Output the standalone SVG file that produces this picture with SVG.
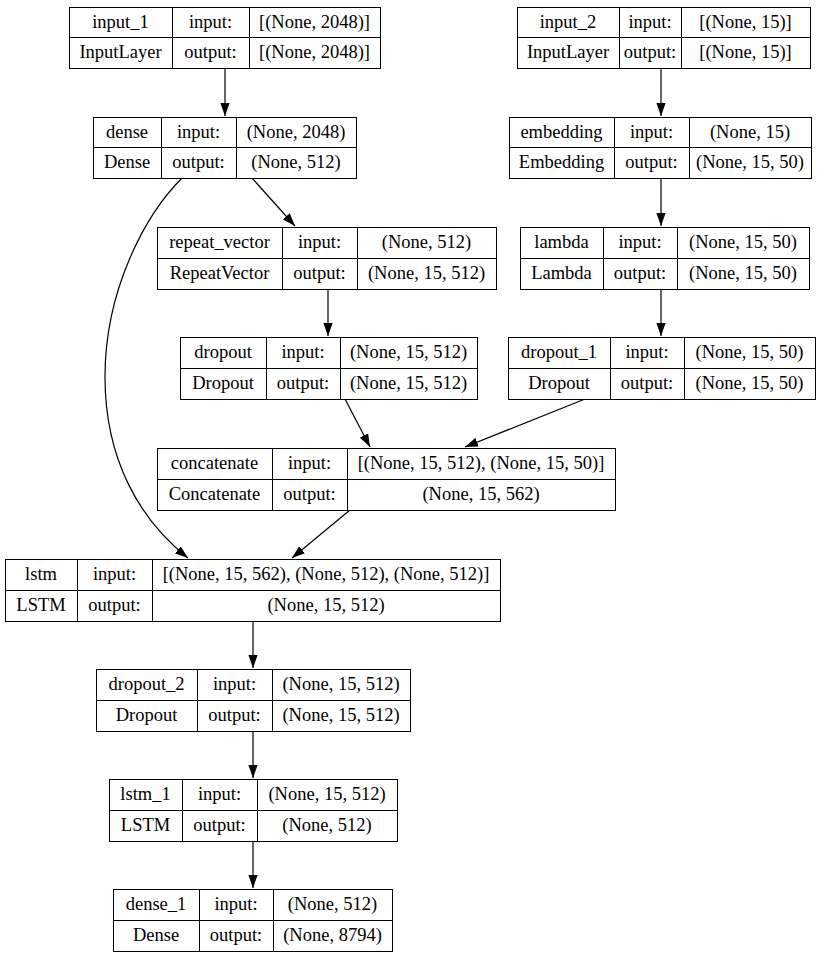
<svg xmlns="http://www.w3.org/2000/svg" width="825" height="959" viewBox="0 0 825 959">
<style>
.b{fill:#fff;stroke:#000;stroke-width:1}
.d{stroke:#000;stroke-width:1}
text{font-family:"Liberation Serif","Times New Roman",serif;font-size:18.5px;text-anchor:middle;fill:#000}
.c{fill:none;stroke:#000;stroke-width:1.2}
</style>
<defs>
<marker id="ah" markerUnits="userSpaceOnUse" markerWidth="14" markerHeight="10" refX="13" refY="5" orient="auto">
<path d="M0,0.4 L13,5 L0,9.6 Z" fill="#000"/>
</marker>
</defs>
<rect width="825" height="959" fill="#fff"/>
<g id="connectors">
<path class="c" d="M225,68 V116" marker-end="url(#ah)"/>
<path class="c" d="M661,68 V116" marker-end="url(#ah)"/>
<path class="c" d="M252,178 L295,226" marker-end="url(#ah)"/>
<path class="c" d="M182,178 C145,215 105,290 105,377 C105,460 140,520 188,558" marker-end="url(#ah)"/>
<path class="c" d="M661,178 V226" marker-end="url(#ah)"/>
<path class="c" d="M328,289 V336" marker-end="url(#ah)"/>
<path class="c" d="M661,289 V336" marker-end="url(#ah)"/>
<path class="c" d="M345,399 L370,447" marker-end="url(#ah)"/>
<path class="c" d="M585,399 L465,447" marker-end="url(#ah)"/>
<path class="c" d="M350,510 L292,558" marker-end="url(#ah)"/>
<path class="c" d="M253,621 V668" marker-end="url(#ah)"/>
<path class="c" d="M253,731 V778" marker-end="url(#ah)"/>
<path class="c" d="M253,841 V888" marker-end="url(#ah)"/>
</g>
<g id="input_1">
<rect class="b" x="69.5" y="7.5" width="311" height="61"/>
<path class="d" d="M69.5,37.5 H380.5 M172.5,7.5 V68.5 M249.5,7.5 V68.5"/>
<text x="120.5" y="28">input_1</text><text x="210.5" y="28">input:</text><text x="314.5" y="28">[(None, 2048)]</text>
<text x="120.5" y="58">InputLayer</text><text x="210.5" y="58">output:</text><text x="314.5" y="58">[(None, 2048)]</text>
</g>
<g id="input_2">
<rect class="b" x="517.5" y="7.5" width="293" height="61"/>
<path class="d" d="M517.5,37.5 H810.5 M619.5,7.5 V68.5 M681.5,7.5 V68.5"/>
<text x="568" y="28">input_2</text><text x="650" y="28">input:</text><text x="745.5" y="28">[(None, 15)]</text>
<text x="568" y="58">InputLayer</text><text x="650" y="58">output:</text><text x="745.5" y="58">[(None, 15)]</text>
</g>
<g id="dense">
<rect class="b" x="93.5" y="117.5" width="263" height="61"/>
<path class="d" d="M93.5,147.5 H356.5 M161.5,117.5 V178.5 M236.5,117.5 V178.5"/>
<text x="127" y="138">dense</text><text x="198.5" y="138">input:</text><text x="296" y="138">(None, 2048)</text>
<text x="127" y="168">Dense</text><text x="198.5" y="168">output:</text><text x="296" y="168">(None, 512)</text>
</g>
<g id="embedding">
<rect class="b" x="509.5" y="117.5" width="302" height="61"/>
<path class="d" d="M509.5,147.5 H811.5 M614.5,117.5 V178.5 M689.5,117.5 V178.5"/>
<text x="561.5" y="138">embedding</text><text x="651.5" y="138">input:</text><text x="750" y="138">(None, 15)</text>
<text x="561.5" y="168">Embedding</text><text x="651.5" y="168">output:</text><text x="750" y="168">(None, 15, 50)</text>
</g>
<g id="repeat_vector">
<rect class="b" x="157.5" y="227.5" width="339" height="62"/>
<path class="d" d="M157.5,258.5 H496.5 M282.5,227.5 V289.5 M357.5,227.5 V289.5"/>
<text x="219.5" y="248">repeat_vector</text><text x="319.5" y="248">input:</text><text x="426.5" y="248">(None, 512)</text>
<text x="219.5" y="279">RepeatVector</text><text x="319.5" y="279">output:</text><text x="426.5" y="279">(None, 15, 512)</text>
</g>
<g id="lambda">
<rect class="b" x="520.5" y="227.5" width="289" height="62"/>
<path class="d" d="M520.5,258.5 H809.5 M603.5,227.5 V289.5 M677.5,227.5 V289.5"/>
<text x="561.5" y="248">lambda</text><text x="640" y="248">input:</text><text x="743" y="248">(None, 15, 50)</text>
<text x="561.5" y="279">Lambda</text><text x="640" y="279">output:</text><text x="743" y="279">(None, 15, 50)</text>
</g>
<g id="dropout">
<rect class="b" x="180.5" y="337.5" width="297" height="62"/>
<path class="d" d="M180.5,368.5 H477.5 M266.5,337.5 V399.5 M340.5,337.5 V399.5"/>
<text x="223" y="358">dropout</text><text x="303" y="358">input:</text><text x="408.5" y="358">(None, 15, 512)</text>
<text x="223" y="389">Dropout</text><text x="303" y="389">output:</text><text x="408.5" y="389">(None, 15, 512)</text>
</g>
<g id="dropout_1">
<rect class="b" x="508.5" y="337.5" width="307" height="62"/>
<path class="d" d="M508.5,368.5 H815.5 M610.5,337.5 V399.5 M684.5,337.5 V399.5"/>
<text x="559" y="358">dropout_1</text><text x="647" y="358">input:</text><text x="749.5" y="358">(None, 15, 50)</text>
<text x="559" y="389">Dropout</text><text x="647" y="389">output:</text><text x="749.5" y="389">(None, 15, 50)</text>
</g>
<g id="concatenate">
<rect class="b" x="157.5" y="448.5" width="458" height="62"/>
<path class="d" d="M157.5,479.5 H615.5 M272.5,448.5 V510.5 M347.5,448.5 V510.5"/>
<text x="214.5" y="469">concatenate</text><text x="309.5" y="469">input:</text><text x="481" y="469">[(None, 15, 512), (None, 15, 50)]</text>
<text x="214.5" y="500">Concatenate</text><text x="309.5" y="500">output:</text><text x="481" y="500">(None, 15, 562)</text>
</g>
<g id="lstm">
<rect class="b" x="5.5" y="559.5" width="495" height="62"/>
<path class="d" d="M5.5,590.5 H500.5 M77.5,559.5 V621.5 M152.5,559.5 V621.5"/>
<text x="41" y="580">lstm</text><text x="114.5" y="580">input:</text><text x="326" y="580">[(None, 15, 562), (None, 512), (None, 512)]</text>
<text x="41" y="611">LSTM</text><text x="114.5" y="611">output:</text><text x="326" y="611">(None, 15, 512)</text>
</g>
<g id="dropout_2">
<rect class="b" x="96.5" y="669.5" width="314" height="62"/>
<path class="d" d="M96.5,700.5 H410.5 M197.5,669.5 V731.5 M272.5,669.5 V731.5"/>
<text x="146.5" y="690">dropout_2</text><text x="234.5" y="690">input:</text><text x="341" y="690">(None, 15, 512)</text>
<text x="146.5" y="721">Dropout</text><text x="234.5" y="721">output:</text><text x="341" y="721">(None, 15, 512)</text>
</g>
<g id="lstm_1">
<rect class="b" x="109.5" y="779.5" width="288" height="62"/>
<path class="d" d="M109.5,810.5 H397.5 M182.5,779.5 V841.5 M257.5,779.5 V841.5"/>
<text x="145.5" y="800">lstm_1</text><text x="219.5" y="800">input:</text><text x="327" y="800">(None, 15, 512)</text>
<text x="145.5" y="831">LSTM</text><text x="219.5" y="831">output:</text><text x="327" y="831">(None, 512)</text>
</g>
<g id="dense_1">
<rect class="b" x="113.5" y="889.5" width="279" height="62"/>
<path class="d" d="M113.5,920.5 H392.5 M199.5,889.5 V951.5 M273.5,889.5 V951.5"/>
<text x="156" y="910">dense_1</text><text x="236" y="910">input:</text><text x="332.5" y="910">(None, 512)</text>
<text x="156" y="941">Dense</text><text x="236" y="941">output:</text><text x="332.5" y="941">(None, 8794)</text>
</g>
</svg>
